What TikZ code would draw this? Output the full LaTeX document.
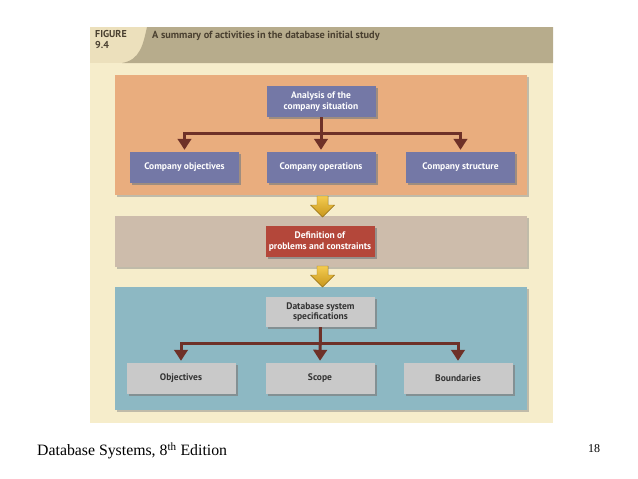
\documentclass[tikz,border=0pt]{standalone}
\usepackage{fontspec}
\setmainfont{Liberation Serif}
\newfontfamily\figfont{PT Sans}
\usetikzlibrary{arrows.meta, shadows}

\definecolor{figbg}{HTML}{F6EDCB}
\definecolor{headl}{HTML}{ECE0BC}
\definecolor{headc}{HTML}{B7AC8C}
\definecolor{headtxt}{HTML}{4A4030}
\definecolor{orpanel}{HTML}{E9AD7E}
\definecolor{grpanel}{HTML}{CDBCAB}
\definecolor{blpanel}{HTML}{8DB8C3}
\definecolor{slate}{HTML}{7478A6}
\definecolor{brick}{HTML}{B4473A}
\definecolor{lgray}{HTML}{C9C9C9}
\definecolor{linkc}{HTML}{6E3128}
\definecolor{goldt}{HTML}{F4CC50}
\definecolor{goldb}{HTML}{C8961C}

\begin{document}
\begin{tikzpicture}[x=1pt, y=-1pt, >={Triangle[width=13.5pt,length=11pt]}]
\tikzset{ panel/.style={draw=none, minimum width=412pt,
                        drop shadow={shadow xshift=1.5pt, shadow yshift=-1.5pt, opacity=.45}},
          box/.style={align=center, minimum width=109pt, minimum height=31pt, inner sep=1pt,
                      font=\figfont\bfseries\fontsize{9.5}{10.5}\selectfont,
                      drop shadow={shadow xshift=2pt, shadow yshift=-2pt, opacity=.7}},
          link/.style={draw=linkc, line width=3pt, ->, shorten >=2pt},
          flow/.style={draw=goldb!80!black, line width=.4pt, top color=goldt, bottom color=goldb} };

\useasboundingbox (0,0) rectangle (638,479);

% figure frame and header
\fill[figbg] (90,27) rectangle (553,423);
\fill[headl] (90,27) rectangle (553,63);
\fill[headc] (147,27) -- (553,27) -- (553,63) -- (122,63) .. controls (140,60) and (143,45) .. (147,27);
\node[anchor=north west, align=left, inner sep=0pt, text=headtxt,
      font=\figfont\bfseries\fontsize{10}{11.5}\selectfont] (figno) at (95,30) {FIGURE\\9.4};
\node[anchor=west, inner sep=0pt, text=headtxt,
      font=\figfont\bfseries\fontsize{10.3}{12}\selectfont] (title) at (152,36)
      {A summary of activities in the database initial study};

% panels
\node[panel, fill=orpanel, minimum height=120pt] (P1) at (321,135) {};
\node[panel, fill=grpanel, minimum height=51pt] (P2) at (321,241.5) {};
\node[panel, fill=blpanel, minimum height=123pt] (P3) at (321,348.5) {};

% yellow arrows between panels
\coordinate (F1) at (322.5,196);
\coordinate (F2) at (322.5,266);
\foreach \f in {F1,F2}
  \filldraw[flow] (\f) ++(-5.5,0) -- ++(11,0) -- ++(0,9) -- ++(6.5,0) -- ++(-12,12)
                  -- ++(-12,-12) -- ++(6.5,0) -- cycle;

% first panel
\node[box, fill=slate, text=white] (ana) at (321,101.5) {Analysis of the\\company situation};
\node[box, fill=slate, text=white] (cobj) at (184.5,167.5) {Company objectives};
\node[box, fill=slate, text=white] (cops) at (321,167.5) {Company operations};
\node[box, fill=slate, text=white] (cstr) at (460.5,167.5) {Company structure};

\draw[link] (ana.south) -- (cops.north);
\draw[link] (ana.south) -- ++(0,16) -| (cobj.north);
\draw[link] (ana.south) -- ++(0,16) -| (cstr.north);

% second panel
\node[box, fill=brick, text=white] (def) at (320,241.5) {Definition of\\problems and constraints};

% third panel
\node[box, fill=lgray, text=black!80, minimum height=30pt] (dbs) at (320.5,312) {Database system\\specifications};
\node[box, fill=lgray, text=black!80] (obj) at (181,378.5) {Objectives};
\node[box, fill=lgray, text=black!80] (scope) at (320,378.5) {Scope};
\node[box, fill=lgray, text=black!80] (bound) at (458,378.5) {Boundaries};

\draw[link] (dbs.south) -- (scope.north);
\draw[link] (dbs.south) -- ++(0,16) -| (obj.north);
\draw[link] (dbs.south) -- ++(0,16) -| (bound.north);

% footer
\node[anchor=west, inner sep=0pt, font=\fontsize{15.8}{18}\selectfont] (foot) at (37,451)
      {Database Systems, 8\textsuperscript{th} Edition};
\node[inner sep=0pt, font=\fontsize{12}{14}\selectfont] (page) at (594,449) {18};
\end{tikzpicture}
\end{document}
